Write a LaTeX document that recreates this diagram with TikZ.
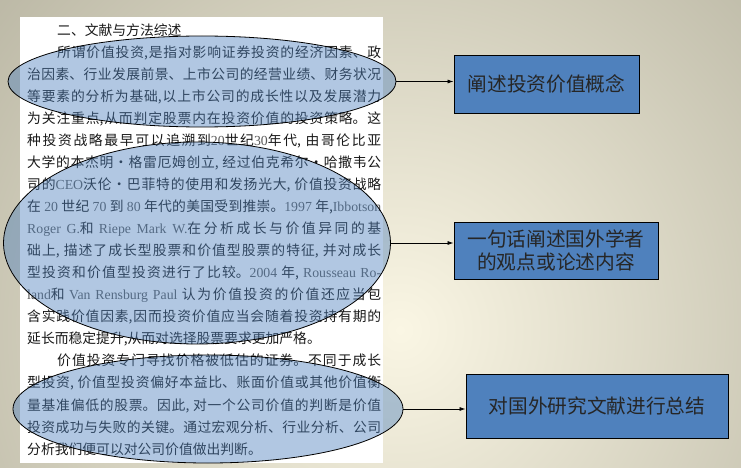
\documentclass[tikz,border=0pt]{standalone}
\usepackage{fontspec}
\setmainfont{Liberation Serif}
\newfontfamily\cjk{Noto Sans CJK SC}
\newfontfamily\lat{Liberation Serif}
\usetikzlibrary{shapes.geometric,arrows.meta}
\definecolor{bgdark}{RGB}{160,157,138}
\definecolor{bglight}{RGB}{250,246,228}
\definecolor{boxblue}{RGB}{79,129,189}
\newcommand{\en}[1]{{\lat\color{black!65}#1}}
\XeTeXlinebreaklocale "zh"
\XeTeXlinebreakskip=0pt plus 2pt
\tolerance=10000

\begin{document}
\begin{tikzpicture}[x=1pt, y=-1pt,
  oval/.style={ellipse, draw, line width=0.8pt, fill=boxblue, fill opacity=0.44, inner sep=0pt},
  note/.style={rectangle, draw, line width=0.9pt, fill=boxblue, inner sep=0pt, align=center,
    font=\cjk\fontsize{19.7}{23}\selectfont, text=black!85},
  arr/.style={-{Latex[length=6pt,width=4pt]}, line width=0.8pt}]

\useasboundingbox (0,0) rectangle (741,468);
\begin{scope}
\clip (0,0) rectangle (741,468);
\shade[inner color=bglight, outer color=bgdark] (400,330) circle (760);
\end{scope}
\fill[white] (20,17) rectangle (383,463);

\node[anchor=base west, inner sep=0pt, text width=354pt, align=justify,
  font=\cjk\fontsize{13.8}{22.05}\selectfont, text=black!90] (body) at (27,35.2) {%
\hspace*{30pt}二、文献与方法综述\par
\hspace*{30pt}所谓价值投资,是指对影响证券投资的经济因素、政\linebreak
治因素、行业发展前景、上市公司的经营业绩、财务状况\linebreak
等要素的分析为基础,以上市公司的成长性以及发展潜力\linebreak
为关注重点,从而判定股票内在投资价值的投资策略。这\linebreak
种投资战略最早可以追溯到\en{20}世纪\en{30}年代, 由哥伦比亚\linebreak
大学的本杰明·格雷厄姆创立, 经过伯克希尔·哈撒韦公\linebreak
司的\en{CEO}沃伦·巴菲特的使用和发扬光大, 价值投资战略\linebreak
在 \en{20} 世纪 \en{70} 到 \en{80} 年代的美国受到推崇。\en{1997} 年,\en{Ibbotson}\linebreak
\en{Roger G.}和 \en{Riepe Mark W.}在分析成长与价值异同的基\linebreak
础上, 描述了成长型股票和价值型股票的特征, 并对成长\linebreak
型投资和价值型投资进行了比较。\en{2004} 年, \en{Rousseau Ro-}\linebreak
\en{land}和 \en{Van Rensburg Paul} 认为价值投资的价值还应当包\linebreak
含实践价值因素,因而投资价值应当会随着投资持有期的\linebreak
延长而稳定提升,从而对选择股票要求更加严格。\par
\hspace*{30pt}价值投资专门寻找价格被低估的证券。不同于成长\linebreak
型投资, 价值型投资偏好本益比、账面价值或其他价值衡\linebreak
量基准偏低的股票。因此, 对一个公司价值的判断是价值\linebreak
投资成功与失败的关键。通过宏观分析、行业分析、公司\linebreak
分析我们便可以对公司价值做出判断。};

\node[oval, minimum width=388pt, minimum height=91pt]  (concept) at (202,81.5) {};
\node[oval, minimum width=387pt, minimum height=202pt] (views)   at (197,243)  {};
\node[oval, minimum width=390pt, minimum height=108pt] (summary) at (208,409)  {};

\node[note, minimum width=185pt, minimum height=58pt] (conceptbox) at (546.5,84)  {阐述投资价值概念};
\node[note, minimum width=204pt, minimum height=57pt] (viewsbox)   at (556,250.5) {一句话阐述国外学者\\的观点或论述内容};
\node[note, minimum width=262pt, minimum height=64pt] (summarybox) at (597,406)   {对国外研究文献进行总结};

\foreach \a/\b in {concept/conceptbox, views/viewsbox, summary/summarybox}
  \draw[arr] (\a.east) -- (\a.east -| \b.west);
\end{tikzpicture}
\end{document}
